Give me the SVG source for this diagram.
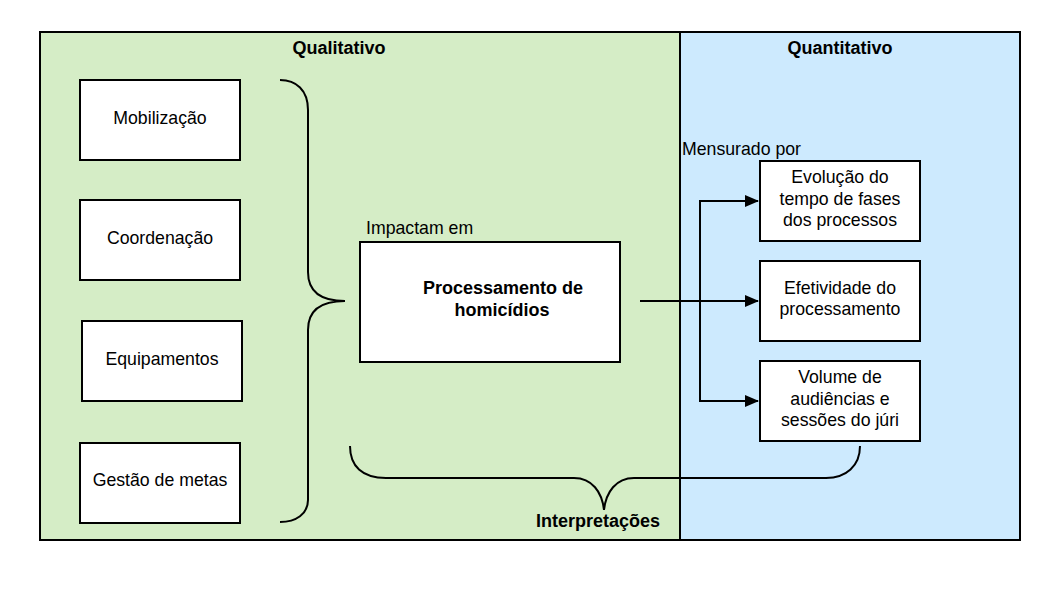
<svg xmlns="http://www.w3.org/2000/svg" width="1060" height="594" viewBox="0 0 1060 594">
<defs>
<style>
.box{fill:#fff;stroke:#000;stroke-width:2}
.t{font-family:"Liberation Sans",Arial,sans-serif;font-size:17.7px;fill:#000}
.c{text-anchor:middle}
.b{font-weight:bold;font-size:18px}
.ln{fill:none;stroke:#000;stroke-width:2}
</style>
<marker id="ah" markerWidth="14" markerHeight="12" refX="13" refY="6" orient="auto" markerUnits="userSpaceOnUse" viewBox="0 0 14 12">
<path d="M0,0 L14,6 L0,12 Z" fill="#000"/>
</marker>
</defs>
<rect width="1060" height="594" fill="#fff"/>
<g id="qualitativo">
<rect x="40" y="32" width="640" height="508" fill="#d5edc6" stroke="#000" stroke-width="2"/>
<text class="t b c" x="339" y="54">Qualitativo</text>
</g>
<g id="quantitativo">
<rect x="680" y="32" width="340" height="508" fill="#cdeafe" stroke="#000" stroke-width="2"/>
<text class="t b c" x="840" y="54">Quantitativo</text>
</g>
<g id="mobilizacao"><rect class="box" x="80" y="80" width="160" height="80"/><text class="t c" x="160" y="124">Mobilização</text></g>
<g id="coordenacao"><rect class="box" x="80" y="200" width="160" height="80"/><text class="t c" x="160" y="244">Coordenação</text></g>
<g id="equipamentos"><rect class="box" x="82" y="321" width="160" height="80"/><text class="t c" x="162" y="365">Equipamentos</text></g>
<g id="gestao"><rect class="box" x="80" y="443" width="160" height="80"/><text class="t c" x="160" y="486">Gestão de metas</text></g>
<g id="processamento">
<text class="t" x="366" y="234">Impactam em</text>
<rect class="box" x="360" y="242" width="260" height="120"/>
<text class="t b c" x="503" y="294">Processamento de</text>
<text class="t b c" x="502" y="316">homicídios</text>
</g>
<g id="evolucao"><rect class="box" x="760" y="161" width="160" height="80"/><text class="t c" x="840" y="183">Evolução do</text><text class="t c" x="840" y="205">tempo de fases</text><text class="t c" x="840" y="226">dos processos</text></g>
<g id="efetividade"><rect class="box" x="760" y="261" width="160" height="80"/><text class="t c" x="840" y="294">Efetividade do</text><text class="t c" x="840" y="315">processamento</text></g>
<g id="volume"><rect class="box" x="760" y="361" width="160" height="80"/><text class="t c" x="840" y="383">Volume de</text><text class="t c" x="840" y="405">audiências e</text><text class="t c" x="840" y="426">sessões do júri</text></g>
<g id="mensurado"><text class="t" x="682" y="155">Mensurado por</text></g>
<g id="interpretacoes"><text class="t b c" x="598" y="527">Interpretações</text></g>
<g id="connectors">
<path class="ln" d="M280,80 C296,80 308,90 308,110 L308,272 C308,292 322,301 345,301 C322,301 308,310 308,330 L308,500 C308,514 296,522 280,522"/>
<path class="ln" d="M350,446 C350,466 362,478 386,478 L574,478 C592,478 602,492 604,510 C606,492 616,478 634,478 L826,478 C846,478 860,466 860,446"/>
<path class="ln" d="M640,301 L758,301" marker-end="url(#ah)"/>
<path class="ln" d="M758,201 L700,201 L700,401 L758,401" marker-end="url(#ah)"/>
<path class="ln" d="M740,201 L758,201" marker-end="url(#ah)"/>
</g>
</svg>
